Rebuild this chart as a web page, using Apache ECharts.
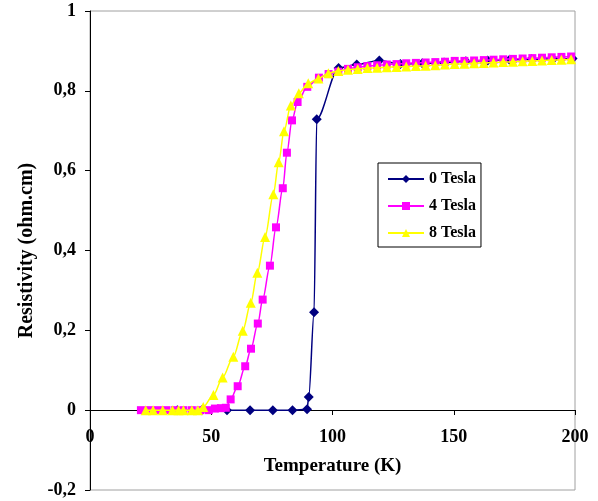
<!DOCTYPE html>
<html><head><meta charset="utf-8">
<script src="https://cdn.jsdelivr.net/npm/echarts@6/dist/echarts.min.js"></script>
<style>html,body{margin:0;padding:0;background:#fff}#c{width:598px;height:501px}</style>
</head><body><div id="c"></div>
<script>
var seriesNames = ['0 Tesla', '4 Tesla', '8 Tesla'];
var xTicks = [0, 50, 100, 150, 200];
var yTicks = [-0.2, 0, 0.2, 0.4, 0.6, 0.8, 1];

var temp0 = [36, 46, 56.5, 66, 75.4, 83.5, 89.5, 90.2, 92.4, 93.5, 102.5, 110, 119.3, 128, 137, 146, 155, 164, 173, 182, 191, 199];
var res0  = [0, 0, 0, 0, 0, 0, 0.002, 0.033, 0.245, 0.729, 0.857, 0.866, 0.876, 0.867, 0.869, 0.871, 0.874, 0.876, 0.878, 0.879, 0.880, 0.881];

var temp4 = [21, 24.5, 28, 31.5, 35, 38.5, 42, 45.5, 49, 51.5, 54, 56, 58, 60.9, 64, 66.4, 69.2, 71.2, 74.2, 76.7, 79.5, 81.2, 83.3, 85.6, 89.6, 94.4, 98.4,
  102.4, 106.4, 110.4, 114.4, 118.4, 122.4, 126.4, 130.4, 134.4, 138.4, 142.4, 146.4, 150.4, 154.4, 158.4, 162.4, 166.4, 170.4, 174.4, 178.4, 182.4, 186.4, 190.4, 194.4, 198.4];
var res4  = [0, 0, 0, 0, 0, 0, 0, 0, 0, 0.004, 0.005, 0.006, 0.027, 0.06, 0.11, 0.154, 0.217, 0.277, 0.362, 0.458, 0.556, 0.645, 0.726, 0.772, 0.81, 0.833, 0.842,
  0.848, 0.855, 0.859, 0.862, 0.864, 0.866, 0.867, 0.869, 0.870, 0.871, 0.872, 0.873, 0.875, 0.875, 0.876, 0.877, 0.878, 0.879, 0.880, 0.881, 0.882, 0.883, 0.884, 0.885, 0.886];

var temp8 = [23, 26, 30, 34, 36.5, 38.5, 42, 44.5, 46.7, 50.9, 54.7, 59.1, 63.0, 66.3, 69.0, 72.2, 75.6, 77.8, 80, 82.8, 86.1, 90, 94.2, 98.3,
  102.4, 106.4, 110.4, 114.4, 118.4, 122.4, 126.4, 130.4, 134.4, 138.4, 142.4, 146.4, 150.4, 154.4, 158.4, 162.4, 166.4, 170.4, 174.4, 178.4, 182.4, 186.4, 190.4, 194.4, 198.4];
var res8  = [0, 0, 0, 0, 0, 0, 0, 0, 0.008, 0.038, 0.082, 0.134, 0.199, 0.269, 0.344, 0.434, 0.541, 0.621, 0.699, 0.763, 0.794, 0.819, 0.831, 0.844,
  0.850, 0.853, 0.855, 0.857, 0.858, 0.859, 0.860, 0.861, 0.862, 0.863, 0.864, 0.866, 0.867, 0.868, 0.869, 0.870, 0.871, 0.872, 0.873, 0.874, 0.875, 0.876, 0.877, 0.878, 0.879];

function pairs(t, r) { return t.map(function (v, i) { return [v, r[i]]; }); }

var FONT = 'Liberation Serif';
var chart = echarts.init(document.getElementById('c'), null, {renderer: 'canvas'});
var lineCommon = { type: 'line', smooth: 0.3, smoothMonotone: 'x', animation: false };

chart.setOption({
  backgroundColor: '#fff',
  animation: false,
  grid: { left: 90, right: 23, top: 11, bottom: 11, show: true, borderColor: '#a0a0a0', borderWidth: 1, backgroundColor: 'transparent',
    containLabel: false, outerBoundsMode: 'none' },
  xAxis: {
    type: 'value', min: xTicks[0], max: xTicks[xTicks.length - 1], interval: 50,
    position: 'bottom', offset: -80,
    name: 'Temperature (K)', nameLocation: 'middle', nameGap: 47,
    nameTextStyle: { fontFamily: FONT, fontWeight: 'bold', fontSize: 19, color: '#000' },
    axisLine: { onZero: false, lineStyle: { color: '#000', width: 1 } },
    axisTick: { show: true, length: 5, inside: false, lineStyle: { color: '#000' } },
    axisLabel: { margin: 18, fontFamily: FONT, fontWeight: 'bold', fontSize: 18, color: '#000' },
    splitLine: { show: false }
  },
  yAxis: {
    type: 'value', min: yTicks[0], max: yTicks[yTicks.length - 1], interval: 0.2,
    name: 'Resistivity (ohm.cm)', nameLocation: 'middle', nameGap: 53, nameRotate: 90,
    nameTextStyle: { fontFamily: FONT, fontWeight: 'bold', fontSize: 20, color: '#000' },
    axisLine: { onZero: false, lineStyle: { color: '#000', width: 1 } },
    axisTick: { show: true, length: 5, lineStyle: { color: '#000' } },
    axisLabel: { margin: 14, fontFamily: FONT, fontWeight: 'bold', fontSize: 18, color: '#000',
      formatter: function (v) { var s = (Math.round(v * 10) / 10).toString(); return s.replace('.', ','); } },
    splitLine: { show: false }
  },
  legend: {
    orient: 'vertical', left: 378, top: 163,
    backgroundColor: '#fff', borderColor: '#000', borderWidth: 1,
    padding: [8, 5, 6, 9], itemGap: 11, itemWidth: 36, itemHeight: 10,
    textStyle: { fontFamily: FONT, fontWeight: 'bold', fontSize: 16, color: '#000' },
    data: seriesNames
  },
  series: [
    Object.assign({}, lineCommon, { name: seriesNames[0], data: pairs(temp0, res0), symbol: 'diamond', symbolSize: 10,
      itemStyle: { color: '#000080' }, lineStyle: { color: '#000080', width: 1.5 }, z: 2 }),
    Object.assign({}, lineCommon, { name: seriesNames[1], data: pairs(temp4, res4), symbol: 'rect', symbolSize: 8,
      itemStyle: { color: '#FF00FF' }, lineStyle: { color: '#FF00FF', width: 1.5 }, z: 3 }),
    Object.assign({}, lineCommon, { name: seriesNames[2], data: pairs(temp8, res8), symbol: 'triangle', symbolSize: 10,
      itemStyle: { color: '#FFFF00' }, lineStyle: { color: '#FFFF00', width: 1.5 }, z: 4 })
  ]
});
</script></body></html>
